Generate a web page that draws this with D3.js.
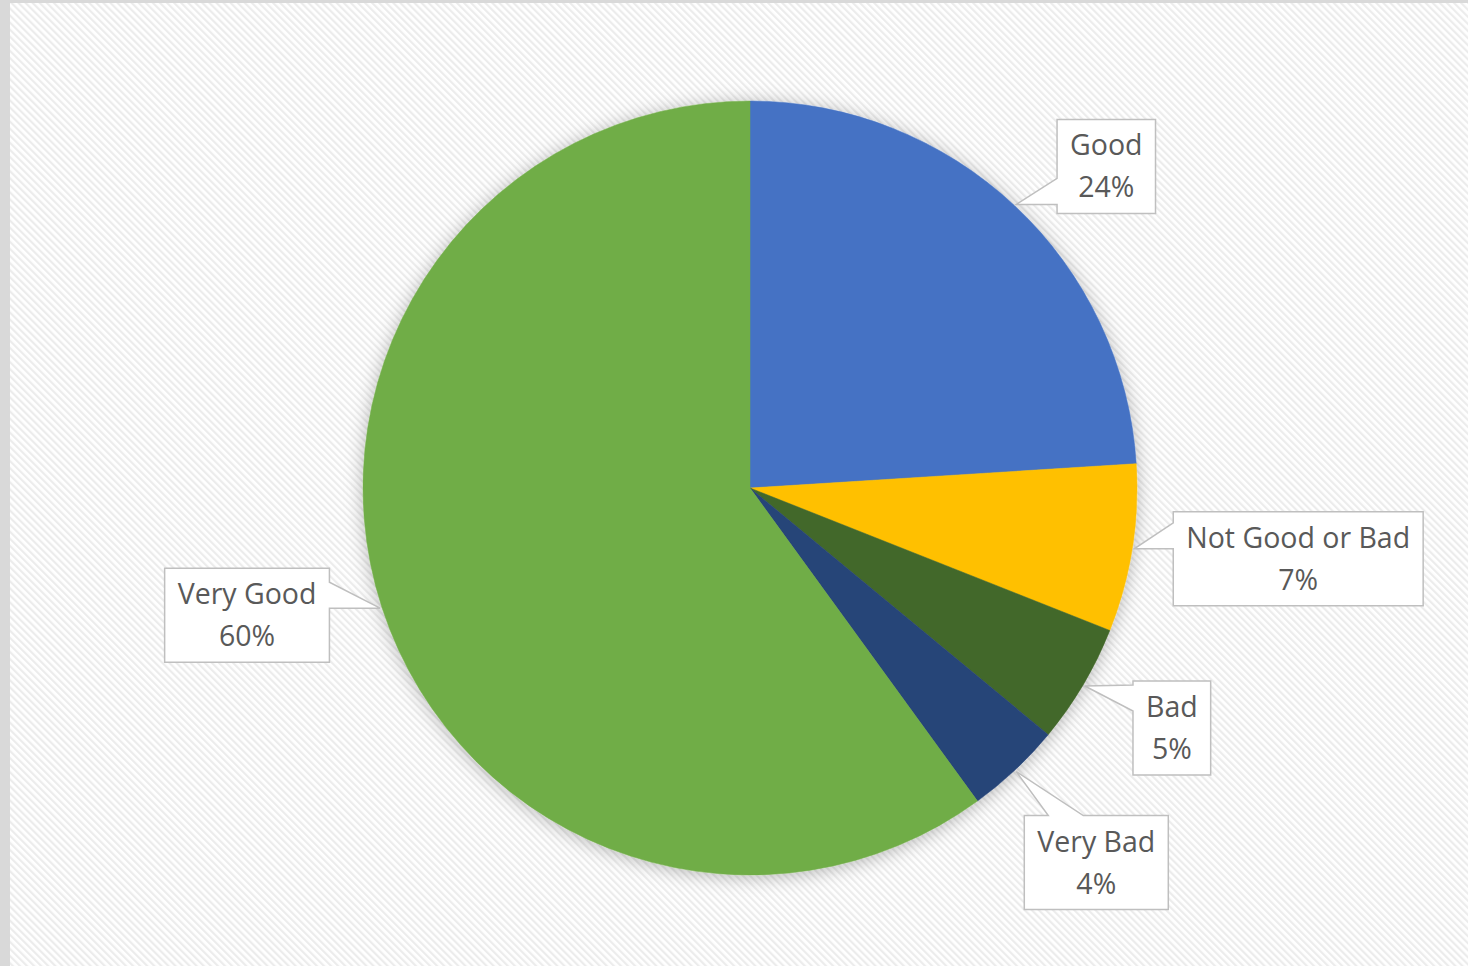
<!DOCTYPE html>
<html>
<head>
<meta charset="utf-8">
<script src="https://cdn.jsdelivr.net/npm/d3@7"></script>
<style>
  body { margin: 0; background: #fff; }
  svg { display: block; }
</style>
</head>
<body>
<div class="chart"></div>
<script>
// data
var categories = ["Good", "Not Good or Bad", "Bad", "Very Bad", "Very Good"];
var values = [24, 7, 5, 4, 60];
var colors = ["#4472C4", "#FFC000", "#43682B", "#264478", "#70AD47"];
// where each callout box sits, relative to its pointer tip (layout only)
var boxOffsets = [[90, -38], [164, 10], [87, 42], [80, 91], [-133, 7]];

var W = 1468, H = 966;
var cx = 750, cy = 488, radius = 387;

var svg = d3.select(".chart").append("svg")
  .attr("width", W)
  .attr("height", H);

var defs = svg.append("defs");

// diagonal stripes of the chart area
var pat = defs.append("pattern")
  .attr("id", "stripes")
  .attr("width", 5).attr("height", 5)
  .attr("patternUnits", "userSpaceOnUse")
  .attr("patternTransform", "rotate(-45)");
pat.append("rect").attr("width", 5).attr("height", 5).attr("fill", "#ffffff");
pat.append("rect").attr("width", 2.2).attr("height", 5).attr("fill", "#ececec");

// soft shadow round the pie
var shadow = defs.append("filter").attr("id", "shadow")
  .attr("x", "-20%").attr("y", "-20%").attr("width", "140%").attr("height", "140%");
shadow.append("feDropShadow")
  .attr("dx", 0).attr("dy", 2)
  .attr("stdDeviation", 9)
  .attr("flood-color", "#000")
  .attr("flood-opacity", 0.28);

// frame + background
svg.append("rect").attr("width", W).attr("height", H).attr("fill", "#d9d9d9");
svg.append("rect")
  .attr("x", 10).attr("y", 3)
  .attr("width", W - 10).attr("height", H - 3)
  .attr("fill", "url(#stripes)");

var g = svg.append("g").attr("transform", "translate(" + cx + "," + cy + ")");

var pie = d3.pie().sort(null).value(function (d) { return d; });
var arcs = pie(values);
var arc = d3.arc().innerRadius(0).outerRadius(radius);

var fmt = d3.format(".0%");
var total = d3.sum(values);

// slices
var slices = g.append("g").style("filter", "url(#shadow)");
slices.selectAll("path")
  .data(arcs)
  .enter().append("path")
  .attr("d", arc)
  .attr("fill", function (d, i) { return colors[i]; })
  .attr("stroke", function (d, i) { return colors[i]; })
  .attr("stroke-width", 0.5);

/////////////////////////////////////////////////////////
/////////////////// Callout labels //////////////////////
/////////////////////////////////////////////////////////
var fontSize = 28.5, lineH = 42, padX = 13, boxH = 94;

var labels = g.append("g").attr("class", "labels");

arcs.forEach(function (d, i) {
  // tip of the pointer: on the slice edge at its mid angle
  var a = (d.startAngle + d.endAngle) / 2;
  var tx = (radius + 2) * Math.sin(a);
  var ty = -(radius + 2) * Math.cos(a);

  var lg = labels.append("g");
  var t1 = lg.append("text").text(categories[i]);
  var t2 = lg.append("text").text(fmt(values[i] / total));
  lg.selectAll("text")
    .attr("text-anchor", "middle")
    .style("font-family", "'Open Sans', 'Noto Sans', sans-serif")
    .style("font-size", fontSize + "px")
    .attr("fill", "#595959");

  var tw = Math.max(t1.node().getComputedTextLength(), t2.node().getComputedTextLength());
  var bw = tw + 2 * padX;
  var bcx = tx + boxOffsets[i][0], bcy = ty + boxOffsets[i][1];
  var x0 = bcx - bw / 2, x1 = bcx + bw / 2, y0 = bcy - boxH / 2, y1 = bcy + boxH / 2;

  // which side does the wedge leave from
  var wedge = 26;
  var p;
  if (tx < x0 && (x0 - tx) >= (ty < y0 ? y0 - ty : 0)) {
    // left side
    var b = Math.min(Math.max(ty, y0 + wedge + 4), y1 - 6);
    p = [[x0, y0], [x1, y0], [x1, y1], [x0, y1], [x0, b], [tx, ty], [x0, b - wedge]];
  } else if (tx > x1) {
    // right side
    var b2 = Math.min(Math.max(ty, y0 + wedge + 4), y1 - 6);
    p = [[x0, y0], [x1, y0], [x1, b2 - wedge], [tx, ty], [x1, b2], [x1, y1], [x0, y1]];
  } else {
    // top side
    var l = Math.max(x0 + 24, Math.min(tx, x1 - wedge - 6));
    p = [[x0, y0], [l, y0], [tx, ty], [l + wedge + 9, y0], [x1, y0], [x1, y1], [x0, y1]];
  }

  lg.insert("path", "text")
    .attr("d", "M" + p.map(function (q) { return q.join(","); }).join("L") + "Z")
    .attr("fill", "#ffffff")
    .attr("stroke", "#bfbfbf")
    .attr("stroke-width", 1.5);

  t1.attr("x", bcx).attr("y", bcy - lineH / 2).attr("dy", "0.35em");
  t2.attr("x", bcx).attr("y", bcy + lineH / 2).attr("dy", "0.35em");
});
</script>
</body>
</html>
